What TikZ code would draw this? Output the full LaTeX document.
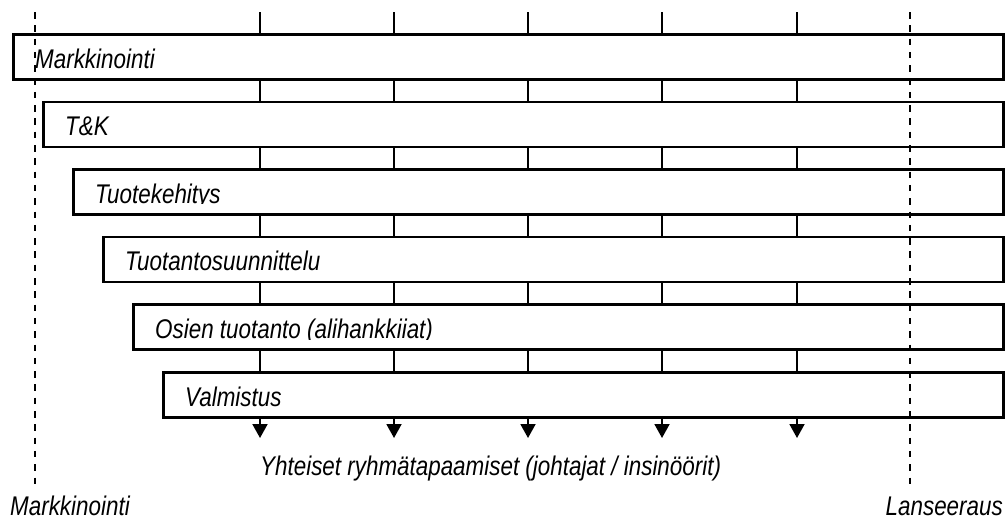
\documentclass[tikz,border=0pt]{standalone}
\usepackage{fontspec}
\setmainfont{Liberation Sans}
\newfontfamily\narrowsans{Liberation Sans}[FakeStretch=0.83]
\usetikzlibrary{arrows.meta,calc}
\begin{document}
\begin{tikzpicture}[x=1pt,y=-1pt,
  stage/.style={draw, line width=2.5pt, fill=white, inner sep=0pt,
    minimum height=45pt, anchor=north west},
  lbl/.style={font=\narrowsans\itshape\fontsize{27}{32}\selectfont,
    inner sep=0pt, anchor=base west},
  sync/.style={line width=1.9pt, -{Triangle[width=15pt,length=14pt]}},
  milestone/.style={line width=2.4pt, dash pattern=on 6.5pt off 6.8pt}]
\useasboundingbox (0,0) rectangle (1007,520);

% meeting lines running down through all stages
\foreach \i/\x in {1/260,2/394,3/528,4/662,5/797}{
  \coordinate (t\i) at (\x,12);
  \coordinate (a\i) at (\x,438);
}
\foreach \i in {1,...,5}{
  \draw[sync] (t\i) -- (a\i);
}

% overlapping stages
\foreach \k/\txt in {0/Markkinointi,1/T\&K,2/Tuotekehitys,3/Tuotantosuunnittelu,
    4/Osien tuotanto (alihankkiiat),5/Valmistus}{
  \pgfmathsetmacro{\bxl}{12+30*\k}
  \pgfmathsetmacro{\bxt}{33+67.6*\k}
  \pgfmathsetmacro{\bxw}{1002-\bxl}
  \node[stage, minimum width=\bxw pt] (b\k) at (\bxl,\bxt) {};
  \begin{scope}
    \clip (\bxl,\bxt) rectangle (1002,\bxt+35.6);
    \node[lbl] (l\k) at (\bxl+23,\bxt+35) {\txt};
  \end{scope}
}

% start and launch milestones
\coordinate (ms) at (35,12);
\coordinate (me) at (35,485);
\coordinate (ls) at (910,12);
\coordinate (le) at (910,485);
\draw[milestone] (ms) -- (me);
\draw[milestone] (ls) -- (le);

\node[lbl] (meet) at (260,475) {Yhteiset ryhmätapaamiset (johtajat / insinöörit)};
\node[lbl] (start) at (10,515) {Markkinointi};
\node[lbl, anchor=base east] (launch) at (1003,515) {Lanseeraus};
\end{tikzpicture}
\end{document}
